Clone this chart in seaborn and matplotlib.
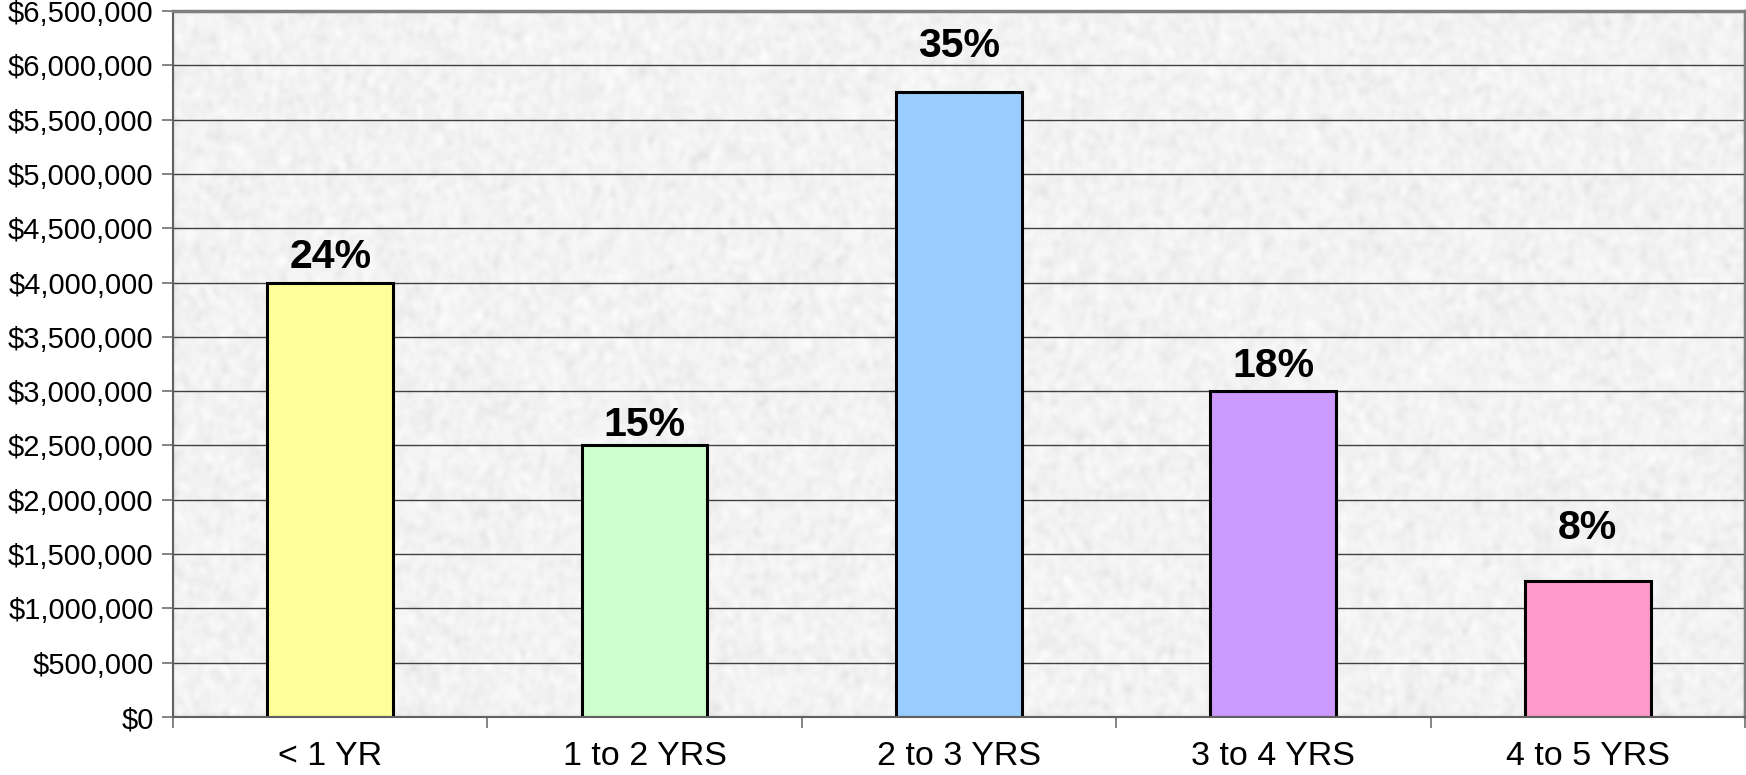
import numpy as np
import pandas as pd
import matplotlib
matplotlib.use("Agg")
import matplotlib.pyplot as plt
from matplotlib.ticker import FuncFormatter, MultipleLocator
import seaborn as sns

# Portfolio value by maturity bucket
categories = ["< 1 YR", "1 to 2 YRS", "2 to 3 YRS", "3 to 4 YRS", "4 to 5 YRS"]
values = [4000000, 2500000, 5750000, 3000000, 1250000]
share_labels = ["24%", "15%", "35%", "18%", "8%"]
bar_colors = ["#FFFF99", "#CCFFCC", "#99CCFF", "#CC99FF", "#FF99CC"]

# vertical gap (points) between each bar top and its share label baseline
label_gaps = [10.8, 6.5, 25.2, 10.0, 30.2]

df = pd.DataFrame({"bucket": categories, "value": values})

sns.set_theme(style="white")
plt.rcParams["font.family"] = ["Liberation Sans", "DejaVu Sans"]

fig = plt.figure(figsize=(17.46, 7.75), dpi=100)
ax = fig.add_axes([0.0991, 0.0748, 0.9003, 0.911])

# granite-style backdrop for the plot area
rng = np.random.default_rng(7)
h, w = 300, 800
noise = rng.random((h, w))
k = np.ones(3) / 3
for _ in range(2):
    noise = np.apply_along_axis(lambda r: np.convolve(r, k, mode="same"), 1, noise)
    noise = np.apply_along_axis(lambda c: np.convolve(c, k, mode="same"), 0, noise)
noise = (noise - noise.min()) / (noise.max() - noise.min())
tex = 0.82 + 0.17 * noise ** 0.5
ax.imshow(tex, cmap="gray", vmin=0, vmax=1, extent=[0, 1, 0, 1],
          transform=ax.transAxes, aspect="auto", zorder=0, interpolation="bilinear")

sns.barplot(data=df, x="bucket", y="value", hue="bucket", palette=bar_colors,
            width=0.4, edgecolor="black", linewidth=2.2, legend=False, ax=ax,
            zorder=3, saturation=1)

ax.set_xlim(-0.5, len(categories) - 0.5)
ax.set_ylim(0, 6500000)
ax.yaxis.set_major_locator(MultipleLocator(500000))
ax.yaxis.set_major_formatter(FuncFormatter(lambda v, p: f"${v:,.0f}"))

ax.set_axisbelow(False)
ax.grid(axis="y", color="#404040", linewidth=1.0, zorder=1)
for gl in ax.get_ygridlines():
    gl.set_zorder(1)

for bar, lab, gap in zip(ax.patches, share_labels, label_gaps):
    ax.annotate(lab, (bar.get_x() + bar.get_width() / 2, bar.get_height()),
                xytext=(0, gap), textcoords="offset points", ha="center", va="baseline",
                fontsize=29.5, fontweight="bold", color="black", zorder=5)

# category ticks sit at the bucket boundaries
ax.set_xticks(np.arange(len(categories)))
ax.set_xticklabels(categories)
ax.set_xticks(np.arange(-0.5, len(categories)), minor=True)
ax.tick_params(axis="x", which="major", length=0, pad=17, labelsize=24.5, labelcolor="black")
ax.tick_params(axis="x", which="minor", length=8, width=1.2, color="#707070", bottom=True)
ax.tick_params(axis="y", which="major", length=8, width=1.2, color="#707070",
               left=True, pad=6, labelsize=21, labelcolor="black")
ax.set_xlabel("")
ax.set_ylabel("")

for side in ["top", "right"]:
    ax.spines[side].set_color("#808080")
    ax.spines[side].set_linewidth(2.5)
ax.spines["left"].set_color("#606060")
ax.spines["left"].set_linewidth(1.5)
ax.spines["bottom"].set_color("#606060")
ax.spines["bottom"].set_linewidth(1.5)
for s in ax.spines.values():
    s.set_zorder(6)

fig.savefig("out.png", dpi=100)
